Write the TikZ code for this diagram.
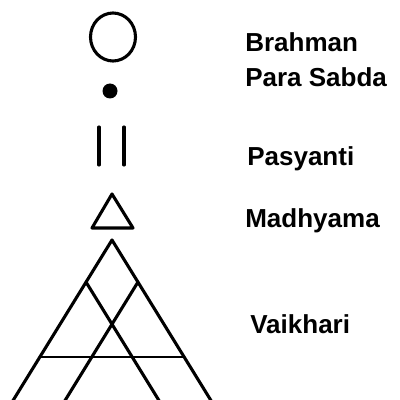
\documentclass[tikz,border=0pt]{standalone}
\usepackage{fontspec}
\setmainfont{Liberation Sans}
\begin{document}
\begin{tikzpicture}[x=0.025cm,y=-0.025cm,
  stroke/.style={line width=2.2pt,line cap=round,line join=round},
  thinstroke/.style={line width=1.6pt,line cap=round},
  lbl/.style={anchor=base west,inner sep=0pt,font=\fontsize{18.5}{20}\selectfont\bfseries}]
\useasboundingbox (0,0) rectangle (400,400);
\clip (0,0) rectangle (400,400);
% Brahman: circle
\draw[stroke] (113,37) ellipse [x radius=22.5, y radius=24];
% Para Sabda: dot
\fill (110,91) circle [radius=7.5];
% Pasyanti: two bars
\draw[stroke] (99,127) -- (99,165);
\draw[stroke] (124,127) -- (124,165);
% Madhyama: small triangle
\draw[stroke] (112,194) -- (133,228) -- (92,228) -- cycle;
% Vaikhari: big triangle with inner lines
\coordinate (apex) at (112,240);
\draw[stroke] (1,420) -- (apex) -- (223,420);
\draw[stroke] (86,282) -- (171,420);
\draw[stroke] (138,282) -- (53,420);
\draw[thinstroke] (40,357) -- (184,357);
% labels
\node[lbl] (brahman) at (245,52) {Brahman};
\node[lbl] (para) at (245,87) {Para Sabda};
\node[lbl] (pasyanti) at (247,165) {Pasyanti};
\node[lbl] (madhyama) at (245,227) {Madhyama};
\node[lbl] (vaikhari) at (250,333) {Vaikhari};
\end{tikzpicture}
\end{document}
